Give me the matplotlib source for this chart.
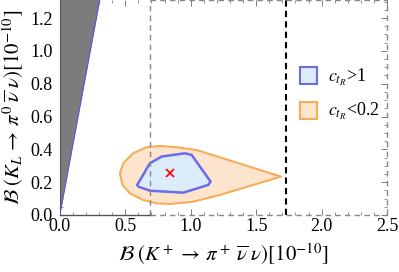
import numpy as np
import matplotlib
matplotlib.use("Agg")
import matplotlib.pyplot as plt
from matplotlib.patches import Polygon, Patch
from matplotlib.ticker import MultipleLocator

plt.rcParams["font.family"] = ["Liberation Serif", "DejaVu Serif"]
plt.rcParams["mathtext.fontset"] = "stix"

# ── data ────────────────────────────────────────────
# excluded (Grossman-Nir) region: triangle from origin
gn_x = [0.0, 0.0, 0.305]
gn_y = [0.0, 1.31, 1.31]

# c_tR < 0.2 region outline
orange_x = [0.459, 0.484, 0.560, 0.663, 0.765, 0.892, 1.045, 1.690,
            1.223, 1.019, 0.841, 0.739, 0.637, 0.535, 0.479]
orange_y = [0.254, 0.315, 0.376, 0.413, 0.421, 0.413, 0.396, 0.234,
            0.122, 0.081, 0.067, 0.071, 0.091, 0.132, 0.183]

# c_tR > 1 region outline
blue_x = [0.591, 0.688, 0.777, 0.956, 1.007, 1.152, 1.134, 0.943, 0.688, 0.599]
blue_y = [0.183, 0.315, 0.356, 0.376, 0.366, 0.203, 0.183, 0.136, 0.148, 0.173]

best_fit = (0.841, 0.254)
exp_box_xmin = 0.69   # gray dashed box
kplus_bound = 1.73    # black dashed line

xticks = [0.0, 0.5, 1.0, 1.5, 2.0, 2.5]
yticks = [0.0, 0.2, 0.4, 0.6, 0.8, 1.0, 1.2]

fig = plt.figure(figsize=(3.99, 2.72), dpi=100)
ax = fig.add_axes([0.150, 0.2096, 0.820, 0.7904])
ax.set_xlim(0, 2.5)
ax.set_ylim(0, 1.31)

ax.add_patch(Polygon(list(zip(gn_x, gn_y)), closed=True, facecolor="#7c7c7c",
                     edgecolor="none", zorder=2))
ax.plot([gn_x[0], gn_x[2]], [gn_y[0], gn_y[2]], color="#5555dd", lw=0.8, zorder=3)

ax.add_patch(Polygon(list(zip(orange_x, orange_y)), closed=True, facecolor="#fde4cc",
                     edgecolor="#f7ac5c", lw=1.5, joinstyle="round", zorder=3))
ax.add_patch(Polygon(list(zip(blue_x, blue_y)), closed=True, facecolor="#dcecfa",
                     edgecolor="#6c6ce8", lw=1.8, joinstyle="round", zorder=4))
ax.plot(*best_fit, marker="x", color="red", ms=6, mew=1.2, zorder=5)

# dashed boxes
box = dict(color="#888888", ls=(0, (4, 3)), lw=1.0, zorder=6, clip_on=False)
ax.plot([exp_box_xmin, exp_box_xmin], [0, 1.31], **box)
ax.plot([exp_box_xmin, 2.5], [0, 0], **box)
ax.plot([2.5, 2.5], [0, 1.31], **box)
ax.plot([exp_box_xmin, 2.5], [1.31, 1.31], **box)
ax.plot([0, exp_box_xmin], [0, 0], color="#555555", lw=1.0, zorder=6, clip_on=False)
ax.axvline(kplus_bound, color="black", ls=(0, (3, 2)), lw=1.5, zorder=6)

for s in ["top", "right", "bottom"]:
    ax.spines[s].set_visible(False)
ax.spines["left"].set_color("#555555")

ax.set_xticks(xticks)
ax.set_yticks(yticks)
ax.set_xticklabels([f"{v:.1f}" for v in xticks])
ax.set_yticklabels([f"{v:.1f}" for v in yticks])
ax.xaxis.set_minor_locator(MultipleLocator(0.1))
ax.yaxis.set_minor_locator(MultipleLocator(0.05))
ax.tick_params(which="both", direction="in", top=True, right=True, colors="#666666",
               labelcolor="black", labelsize=13)
ax.tick_params(which="major", length=4, width=0.6)
ax.tick_params(which="minor", length=2, width=0.5)
ax.tick_params(axis="x", pad=2)
ax.tick_params(axis="y", pad=5)

ax.set_xlabel(r"$\mathcal{B}\;(K^+ \,\to\, \pi^+\;\overline{\nu}\;\nu)[10^{-10}]$", fontsize=15,
              labelpad=5)
ax.set_ylabel(r"$\mathcal{B}\;(K_L \,\to\, \pi^0\;\overline{\nu}\;\nu)[10^{-10}]$", fontsize=15,
              labelpad=3)

handles = [Patch(facecolor="#dcecfa", edgecolor="#6c6ce8", lw=1.5),
           Patch(facecolor="#fde4cc", edgecolor="#f7ac5c", lw=1.5)]
leg = ax.legend(handles, [r"$c_{t_R}$>1", r"$c_{t_R}$<0.2"], loc="upper left",
                bbox_to_anchor=(0.685, 0.765), frameon=False, fontsize=13,
                handlelength=0.95, handleheight=1.05, handletextpad=0.6, labelspacing=0.75)

fig.savefig("out.png", dpi=100)
